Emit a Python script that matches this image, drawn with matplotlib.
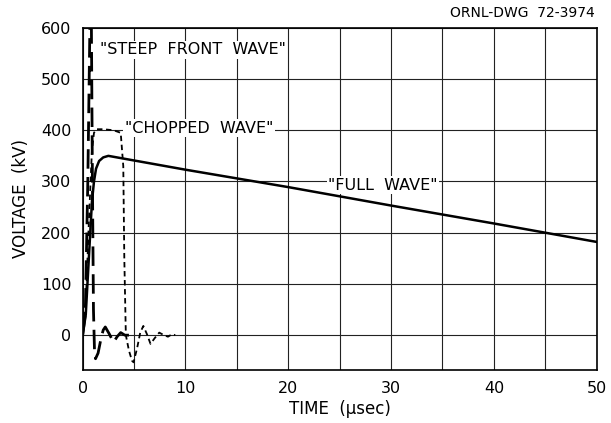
import matplotlib
matplotlib.use("Agg")
import matplotlib.pyplot as plt

# Full wave
full_t = [0.0, 0.3, 0.6, 0.9, 1.1, 1.3, 1.6, 2.0, 2.5, 10, 20, 30, 40, 50]
full_v = [0, 40, 150, 260, 300, 325, 340, 347, 350, 323, 289, 253, 218, 182]

# Chopped wave
chop_t = [0.0, 0.3, 0.6, 0.9, 1.1, 1.35, 2.0, 3.0, 3.7, 3.95, 4.05, 4.2, 4.5, 4.8, 4.95, 5.3, 5.6, 5.9, 6.25, 6.6, 7.0, 7.45, 7.9, 8.3, 8.7, 9.0]
chop_v = [0, 60, 220, 360, 395, 402, 402, 400, 395, 330, 150, 0, -30, -50, -53, -25, 5, 18, 2, -17, -6, 5, 0, -3, 2, 0]

# Steep front wave
steep_t = [0.0, 0.25, 0.5, 0.7, 0.85, 0.95, 1.05, 1.15, 1.25, 1.5, 1.8, 2.0, 2.2, 2.6, 3.0, 3.35, 3.7, 4.1, 4.5]
steep_v = [0, 40, 300, 600, 600, 300, 50, -30, -46, -35, -5, 10, 16, 2, -14, -3, 5, 0, 0]

xticks = [0, 10, 20, 30, 40, 50]
xgrid = [5, 15, 25, 35, 45]
yticks = [0, 100, 200, 300, 400, 500, 600]

plt.rcParams['font.family'] = ['DejaVu Sans']

fig = plt.figure(figsize=(6.11, 4.23), dpi=100)
ax = fig.add_axes([0.1353, 0.1253, 0.8413, 0.809])

ax.plot(full_t, full_v, color='black', lw=1.8, solid_capstyle='round', zorder=3)
ax.plot(chop_t, chop_v, color='black', lw=1.3, linestyle=(0, (3, 2)), zorder=3)
ax.plot(steep_t, steep_v, color='black', lw=2.0, linestyle=(0, (7, 3)), zorder=3)

ax.set_xlim(0, 50)
ax.set_ylim(-68, 600)
ax.set_xticks(xticks)
ax.set_xticks(xgrid, minor=True)
ax.set_yticks(yticks)
ax.tick_params(which='both', length=0, labelsize=11.5, pad=8)
ax.grid(True, which='both', color='#222222', lw=0.8)
ax.set_axisbelow(True)
for s in ax.spines.values():
    s.set_linewidth(1.2)
    s.set_color('black')

ax.set_xlabel('TIME  (μsec)', fontsize=12, labelpad=3)
ax.set_ylabel('VOLTAGE  (kV)', fontsize=12, labelpad=8)

box = dict(facecolor='white', edgecolor='none', pad=1.0)
ax.text(1.7, 557, '"STEEP  FRONT  WAVE"', fontsize=11.5, va='center', ha='left', bbox=box, zorder=2)
ax.text(4.1, 404, '"CHOPPED  WAVE"', fontsize=11.5, va='center', ha='left', bbox=box, zorder=2)
ax.text(23.9, 293, '"FULL  WAVE"', fontsize=11.5, va='center', ha='left', bbox=box, zorder=2)

fig.text(0.974, 0.97, 'ORNL-DWG  72-3974', fontsize=10, ha='right', va='center')

fig.savefig('out.png', dpi=100)
